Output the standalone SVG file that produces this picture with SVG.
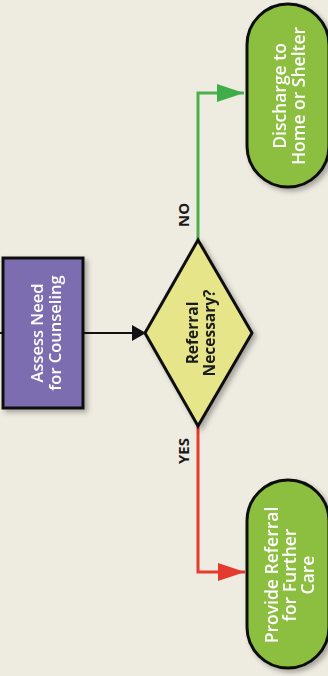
<svg xmlns="http://www.w3.org/2000/svg" width="328" height="676" viewBox="0 0 328 676">
<style>
.node{stroke:#111;stroke-width:3}
.wt{fill:#fff;font-family:"Open Sans","Liberation Sans",sans-serif;font-weight:600;font-size:16.5px;text-anchor:middle}
.wl{fill:#fff;font-family:"Open Sans","Liberation Sans",sans-serif;font-weight:600;font-size:17.5px;text-anchor:middle}
.bt{fill:#1a1a1a;font-family:"Open Sans","Liberation Sans",sans-serif;font-weight:700;font-size:15.5px;text-anchor:middle}
.lab{fill:#1a1a1a;font-family:"Open Sans","Liberation Sans",sans-serif;font-weight:700;font-size:15px;text-anchor:middle}
</style>
<defs>
<filter id="sh" x="-20%" y="-20%" width="150%" height="150%">
<feDropShadow dx="3" dy="3" stdDeviation="2.5" flood-color="#000" flood-opacity="0.3"/>
</filter>
<marker id="ag" viewBox="0 0 27 18" refX="27" refY="9" markerWidth="27" markerHeight="18" markerUnits="userSpaceOnUse" orient="auto"><path d="M0,0 L27,9 L0,18 z" fill="#3fae49"/></marker>
<marker id="ar" viewBox="0 0 27 18" refX="27" refY="9" markerWidth="27" markerHeight="18" markerUnits="userSpaceOnUse" orient="auto"><path d="M0,0 L27,9 L0,18 z" fill="#e63a2e"/></marker>
</defs>
<rect width="328" height="676" fill="#eeece1"/>
<g id="connectors" fill="none">
<line x1="0" y1="333" x2="3" y2="333" stroke="#111" stroke-width="2"/>
<path d="M84,333 H140" stroke="#111" stroke-width="2"/>
<path d="M132,325 L146,333 L132,341 z" fill="#111"/>
<path d="M198,240 V93 H244" stroke="#4cb04a" stroke-width="3" marker-end="url(#ag)"/>
<path d="M198,426 V572 H245" stroke="#e63a2e" stroke-width="3" marker-end="url(#ar)"/>
<text class="lab" transform="translate(0,215) rotate(-90)" x="0" y="189">NO</text>
<text class="lab" transform="translate(0,451) rotate(-90)" x="0" y="189">YES</text>
</g>
<g id="assess" filter="url(#sh)">
<rect class="node" x="3" y="258" width="80" height="150" fill="#7b6db1"/>
<g transform="translate(0,333) rotate(-90)"><text class="wt" x="0" y="43">Assess Need</text><text class="wt" x="0" y="61">for Counseling</text></g>
</g>
<g id="referral" filter="url(#sh)">
<polygon class="node" points="198,240 252,333 198,426 145,333" fill="#e6e58a"/>
<g transform="translate(0,333) rotate(-90)"><text class="bt" x="0" y="198">Referral</text><text class="bt" x="0" y="215">Necessary?</text></g>
</g>
<g id="discharge" filter="url(#sh)">
<rect class="node" x="247" y="4" width="82" height="183" rx="41" ry="41" fill="#8cbe3f"/>
<g transform="translate(0,96) rotate(-90)"><text class="wl" x="0" y="286">Discharge to</text><text class="wl" x="0" y="305">Home or Shelter</text></g>
</g>
<g id="provide" filter="url(#sh)">
<rect class="node" x="247" y="480" width="82" height="188" rx="41" ry="41" fill="#8cbe3f"/>
<g transform="translate(0,575) rotate(-90)"><text class="wl" x="0" y="278">Provide Referral</text><text class="wl" x="0" y="296">for Further</text><text class="wl" x="0" y="314">Care</text></g>
</g>
</svg>
